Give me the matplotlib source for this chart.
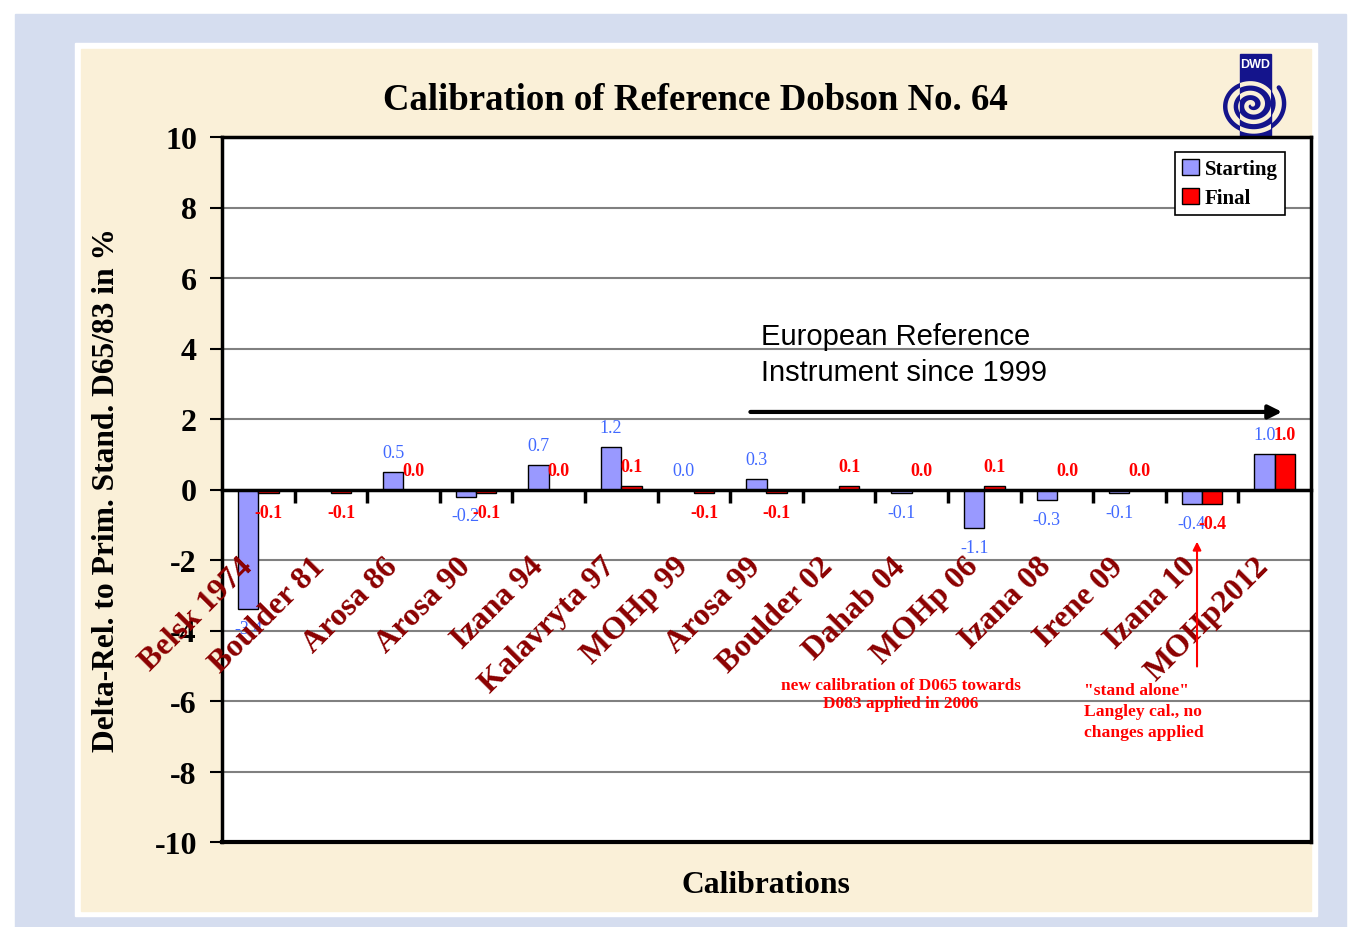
import numpy as np
import matplotlib.pyplot as plt
from matplotlib.patches import Rectangle

# data
calibrations = ['Belsk 1974', 'Boulder 81', 'Arosa 86', 'Arosa 90', 'Izana 94',
                'Kalavryta 97', 'MOHp 99', 'Arosa 99', 'Boulder 02', 'Dahab 04',
                'MOHp 06', 'Izana 08', 'Irene 09', 'Izana 10', 'MOHp2012']
starting = [-3.4, np.nan, 0.5, -0.2, 0.7, 1.2, 0.0, 0.3, np.nan, -0.1,
            -1.1, -0.3, -0.1, -0.4, 1.0]
final = [-0.1, -0.1, 0.0, -0.1, 0.0, 0.1, -0.1, -0.1, 0.1, 0.0,
         0.1, 0.0, 0.0, -0.4, 1.0]
yticks = [-10, -8, -6, -4, -2, 0, 2, 4, 6, 8, 10]

W, H = 1361, 928
SERIF = 'Liberation Serif'
BLUE_BAR = '#9999FF'
RED_BAR = '#FF0000'
BLUE_TXT = '#4169FF'
RED_TXT = '#FF0000'
DARK_RED = '#8B0000'
NAVY = '#14148C'


def fx(px):
    return px / W


def fy(py):
    return 1 - py / H


fig = plt.figure(figsize=(W / 100, H / 100), dpi=100)
fig.patch.set_facecolor('white')

# slide background
bg = fig.add_axes([0, 0, 1, 1])
bg.set_xlim(0, W)
bg.set_ylim(H, 0)
bg.axis('off')
bg.add_patch(Rectangle((15, 15), 1331, 920, color='#D5DDEF', zorder=0))
bg.add_patch(Rectangle((75, 44), 1242, 873, color='white', zorder=1))
bg.add_patch(Rectangle((81, 50), 1230, 862, color='#FAF0D8', zorder=2))

# DWD logo (rough): navy bar, spiral inverted inside the bar
bar = Rectangle((1240, 55), 31, 83, color=NAVY, zorder=3)
bg.add_patch(bar)
bg.text(1255.5, 65, 'DWD', color='white', fontsize=9, fontweight='bold',
        ha='center', va='center', zorder=5, family='Liberation Sans')
t = np.linspace(0.6, 6.2 * np.pi, 500)
r = 1.7 * t
sx = 1252 + r * np.cos(t)
sy = 106 - r * np.sin(t) * 0.9
bg.plot(sx, sy, color=NAVY, lw=3.2, zorder=4, solid_capstyle='round')
white_sp, = bg.plot(sx, sy, color='#FAF0D8', lw=3.2, zorder=4.5,
                    solid_capstyle='round')
white_sp.set_clip_path(bar)

ax = fig.add_axes([fx(222), fy(843), (1311 - 222) / W, (843 - 138) / H])
ax.set_facecolor('white')
ax.set_zorder(5)

x = np.arange(len(calibrations))
s = np.array(starting)
f = np.array(final)
w = 0.28
ok = ~np.isnan(s)
ax.bar(x[ok] - w / 2, s[ok], width=w, color=BLUE_BAR, edgecolor='black',
       linewidth=1, zorder=3, label='Starting')
ax.bar(x + w / 2, f, width=w, color=RED_BAR, edgecolor='black',
       linewidth=1, zorder=3, label='Final')

for xi, v in zip(x[ok] - w / 2, s[ok]):
    off = 14 if v >= 0 else -14
    ax.annotate(f'{v:.1f}', (xi, v), xytext=(0, off), textcoords='offset points',
                ha='center', va='center', color=BLUE_TXT, fontsize=13,
                family=SERIF, zorder=4)
for xi, v in zip(x + w / 2, f):
    off = 14 if v >= 0 else -14
    ax.annotate(f'{v:.1f}', (xi, v), xytext=(0, off), textcoords='offset points',
                ha='center', va='center', color=RED_TXT, fontsize=13,
                fontweight='bold', family=SERIF, zorder=4)

ax.set_xlim(-0.5, len(calibrations) - 0.5)
ax.set_ylim(-10, 10)
ax.set_yticks(yticks)
ax.set_yticklabels([str(v) for v in yticks], fontsize=23, fontweight='bold',
                   family=SERIF)
ax.tick_params(axis='y', direction='out', length=9, width=1.5, pad=9)
ax.grid(axis='y', color='#808080', lw=1.5, zorder=1)

# category axis sits on zero
ax.spines['bottom'].set_position(('data', 0))
ax.spines['bottom'].set_linewidth(2.5)
ax.spines['bottom'].set_zorder(4)
ax.set_xticks(np.arange(0.5, len(calibrations) - 1))
ax.set_xticklabels([])
ax.tick_params(axis='x', direction='out', length=9, width=2.5)
for sp in ['left', 'top', 'right']:
    ax.spines[sp].set_linewidth(2.5)
ax.axhline(-10, color='black', lw=3, clip_on=False, zorder=5)

for xi, name in zip(x, calibrations):
    ax.text(xi - 0.14, -2.05, name, rotation=45, rotation_mode='anchor',
            ha='right', va='center', color=DARK_RED, fontsize=23,
            fontweight='bold', family=SERIF, zorder=6)

leg = ax.legend(loc='upper left', bbox_to_anchor=(0.875, 0.979),
                prop={'family': SERIF, 'weight': 'bold', 'size': 15},
                fancybox=False, edgecolor='black', framealpha=1,
                handlelength=0.8, handleheight=0.8, handletextpad=0.3,
                borderpad=0.35, labelspacing=0.4, borderaxespad=0)
leg.get_frame().set_linewidth(1.2)

# annotations
ax.annotate('', xy=(14.14, 2.2), xytext=(6.74, 2.2),
            arrowprops=dict(arrowstyle='-|>', color='black', lw=3,
                            mutation_scale=20), zorder=6)
ax.text(6.93, 3.85, 'European Reference\nInstrument since 1999', ha='left',
        va='center', fontsize=21, family='Liberation Sans', linespacing=1.38,
        zorder=6)
ax.text(8.85, -5.8, 'new calibration of D065 towards\nD083 applied in 2006',
        ha='center', va='center', color=RED_TXT, fontsize=12.4,
        fontweight='bold', family=SERIF, zorder=6)
iz = calibrations.index('Izana 10')
ax.text(iz - 1.63, -6.29, '"stand alone"\nLangley cal., no\nchanges applied',
        ha='left', va='center', color=RED_TXT, fontsize=12.6,
        fontweight='bold', family=SERIF, linespacing=1.4, zorder=6)
ax.annotate('', xy=(iz - 0.07, -1.4), xytext=(iz - 0.07, -5.1),
            arrowprops=dict(arrowstyle='-|>', color=RED_TXT, lw=1.5,
                            mutation_scale=12), zorder=6)

fig.text(fx(695), fy(101), 'Calibration of Reference Dobson No. 64',
         ha='center', va='center', fontsize=26.5, fontweight='bold', family=SERIF)
fig.text(fx(107), fy(490), 'Delta-Rel. to Prim. Stand. D65/83 in %',
         ha='center', va='center', rotation=90, fontsize=22.7, fontweight='bold',
         family=SERIF)
fig.text(fx(766), fy(886), 'Calibrations', ha='center', va='center',
         fontsize=22.8, fontweight='bold', family=SERIF)

fig.savefig('out.png', dpi=100)
